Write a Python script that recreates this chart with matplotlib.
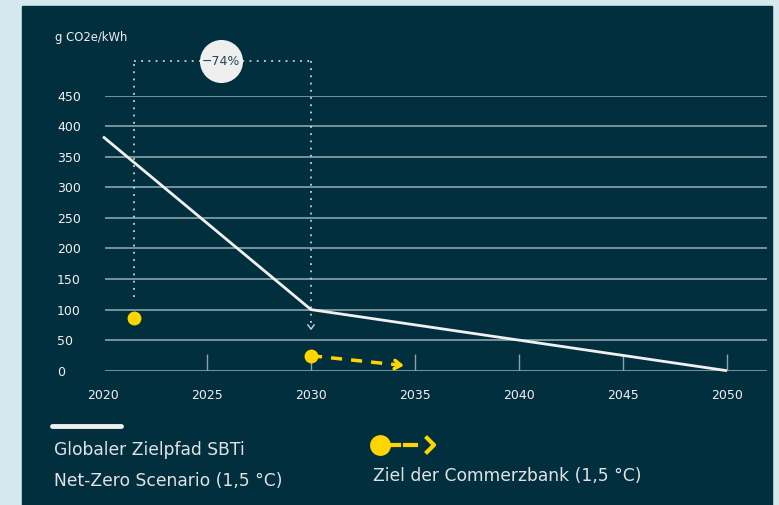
import matplotlib.pyplot as plt
from matplotlib.patches import Rectangle

# Data
sbti_years = [2020, 2030, 2050]
sbti_values = [383, 100, 0]
cb_years = [2021.5, 2030]
cb_values = [86, 24.5]
cb_arrow_end = (2034.6, 8)
reduction_label = "\u221274%"
bracket_top = 506
y_ticks = [0, 50, 100, 150, 200, 250, 300, 350, 400, 450]
x_ticks = [2020, 2025, 2030, 2035, 2040, 2045, 2050]

# Colors
BG = "#d4e8ee"
PANEL = "#022f3e"
GRID = "#8aa4ab"
WHITE = "#f0f0f0"
YELLOW = "#ffd500"

plt.rcParams['font.family'] = ['DejaVu Sans']

W, H = 779, 505
fig = plt.figure(figsize=(W / 100, H / 100), dpi=100, facecolor=BG)
fig.patches.append(Rectangle((22 / W, 0), (772 - 22) / W, (H - 6) / H,
                             transform=fig.transFigure, color=PANEL, zorder=-1))

# axes: x 2020 at px 103, 2050 at px 727 ; y 0 at px 370.7, 450 at px 95.7
px_per_year = (727 - 103) / 30
x_right = 2020 + (767 - 103) / px_per_year
ax = fig.add_axes([103 / W, (H - 370.7) / H, (767 - 103) / W, (370.7 - 95.7) / H])
ax.set_zorder(2)
ax.set_facecolor('none')
ax.set_xlim(2020, x_right)
ax.set_ylim(0, 450)
for s in ax.spines.values():
    s.set_visible(False)

# gridlines
ax.hlines(y_ticks, 2020.1, x_right, color=GRID, lw=1.2, zorder=1)
# small ticks
ax.vlines(x_ticks[1:], 0, 28, color=GRID, lw=1, zorder=1)

ax.set_yticks(y_ticks)
ax.set_yticklabels([str(v) for v in y_ticks], ha='left', fontsize=9, color=WHITE)
ax.tick_params(axis='y', length=0, pad=33)
ax.set_xticks(x_ticks)
ax.set_xticklabels([str(v) for v in x_ticks], fontsize=9, color=WHITE)
ax.tick_params(axis='x', length=0, pad=13)

fig.text(55 / W, 1 - 38 / H, "g CO2e/kWh", fontsize=8.4, color=WHITE, va='center', ha='left')

# SBTi path
ax.plot(sbti_years, sbti_values, color=WHITE, lw=2, zorder=4, clip_on=False,
        solid_capstyle='butt')

# bracket with reduction
dot_style = dict(color="#c9d4d8", lw=1.3, linestyle=(0, (1, 3)), clip_on=False, zorder=3)
ax.plot([cb_years[0], cb_years[0]], [121, bracket_top], **dot_style)
ax.plot([cb_years[0], sbti_years[1]], [bracket_top, bracket_top], **dot_style)
ax.plot([sbti_years[1], sbti_years[1]], [bracket_top, 78], **dot_style)
ax.plot([sbti_years[1] - 0.15, sbti_years[1], sbti_years[1] + 0.15], [75, 68, 75],
        color="#c9d4d8", lw=1, clip_on=False, zorder=3)
circle_x = 2025.65
ax.plot(circle_x, bracket_top, 'o', ms=31, color="#efefef", mec='none', clip_on=False, zorder=5)
ax.text(circle_x, bracket_top, reduction_label, ha='center', va='center', fontsize=9,
        color="#2a4652", zorder=6)

# Commerzbank target
ax.plot(cb_years, cb_values, 'o', ms=10, color=YELLOW, mec='none', zorder=6, clip_on=False)
ax.plot([cb_years[1], cb_arrow_end[0] - 0.25],
        [cb_values[1], cb_arrow_end[1] + (cb_values[1] - cb_arrow_end[1]) * 0.25 / (cb_arrow_end[0] - cb_years[1])],
        color=YELLOW, lw=2.5, linestyle=(0, (3.2, 2.6)), zorder=5)
ax.annotate('', xy=cb_arrow_end, xytext=(cb_arrow_end[0] - 0.5, cb_arrow_end[1] + 1.8),
            arrowprops=dict(arrowstyle='->,head_length=0.45,head_width=0.3',
                            color=YELLOW, lw=2.5), zorder=5)

# legend
TXT = "#dfe3e4"
fig.add_artist(plt.Line2D([52 / W, 121 / W], [1 - 426 / H] * 2, color=WHITE, lw=3.5,
                          solid_capstyle='round'))
fig.text(54 / W, 1 - 450 / H, "Globaler Zielpfad SBTi", fontsize=12.3, color=TXT, va='center')
fig.text(54 / W, 1 - 481 / H, "Net-Zero Scenario (1,5 \u00b0C)", fontsize=12.3, color=TXT, va='center')

ly = 1 - 445 / H
fig.add_artist(plt.Line2D([380 / W, 399 / W], [ly] * 2, color=YELLOW, lw=3))
fig.add_artist(plt.Line2D([380 / W], [ly], marker='o', ms=15, color=YELLOW, mec='none'))
fig.add_artist(plt.Line2D([405 / W, 416 / W], [ly] * 2, color=YELLOW, lw=3))
fig.add_artist(plt.Line2D([427 / W, 434 / W, 427 / W], [1 - 438 / H, ly, 1 - 452 / H],
                          color=YELLOW, lw=3))
fig.text(373 / W, 1 - 476 / H, "Ziel der Commerzbank (1,5 \u00b0C)", fontsize=12.3, color=TXT, va='center')

fig.savefig("out.png", dpi=100, facecolor=BG)
